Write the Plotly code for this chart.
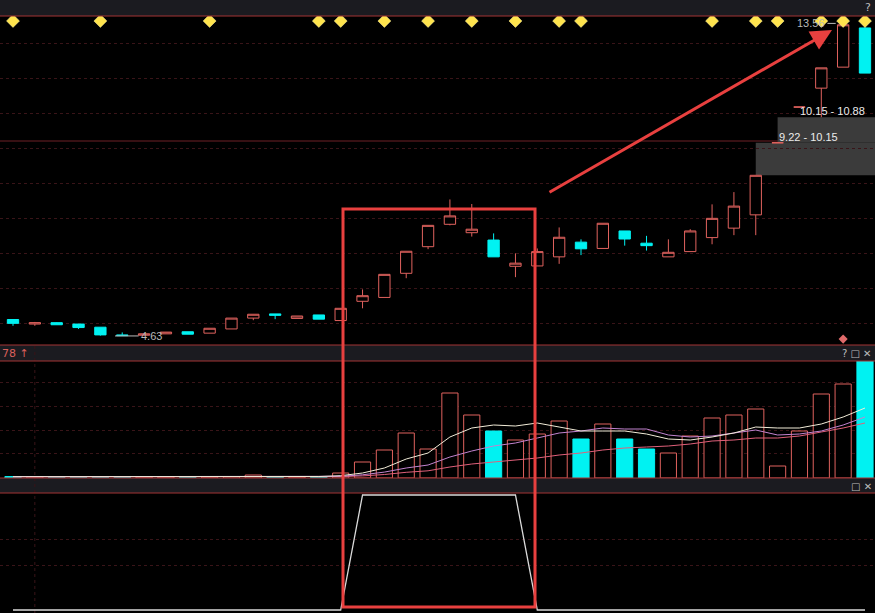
import plotly.graph_objects as go

# ---------------- data ----------------
days = list(range(1, 41))
open_ = [5.10, 4.97, 5.01, 4.97, 4.88, 4.66, 4.65, 4.69, 4.75, 4.71,
         4.83, 5.14, 5.26, 5.13, 5.23, 5.07, 5.62, 5.73, 6.42, 7.18,
         7.82, 7.58, 7.37, 6.62, 6.63, 6.89, 7.31, 7.13, 7.63, 7.28,
         6.89, 7.04, 7.44, 7.71, 8.09, 10.15, 11.17, 11.71, 12.31, 13.43]
high = [5.10, 5.03, 5.02, 4.97, 4.88, 4.73, 4.69, 4.74, 4.75, 4.85,
        5.14, 5.25, 5.26, 5.20, 5.23, 5.42, 5.96, 6.39, 7.05, 7.79,
        8.53, 8.40, 7.56, 6.99, 7.13, 7.73, 7.39, 7.85, 7.63, 7.49,
        7.39, 7.68, 8.39, 8.74, 9.22, 10.15, 11.17, 12.29, 13.56, 13.45]
low = [4.92, 4.92, 4.95, 4.83, 4.64, 4.63, 4.65, 4.69, 4.68, 4.71,
       4.83, 5.08, 5.11, 5.13, 5.11, 5.07, 5.42, 5.73, 6.28, 7.11,
       7.79, 7.47, 6.89, 6.31, 6.63, 6.69, 6.94, 7.13, 7.21, 7.07,
       6.89, 7.04, 7.25, 7.51, 7.51, 10.15, 11.17, 10.88, 12.31, 12.14]
close = [4.99, 5.01, 4.95, 4.87, 4.66, 4.64, 4.69, 4.74, 4.68, 4.85,
         5.14, 5.25, 5.22, 5.20, 5.11, 5.42, 5.78, 6.39, 7.05, 7.79,
         8.06, 7.68, 6.89, 6.71, 7.04, 7.45, 7.12, 7.85, 7.40, 7.21,
         7.02, 7.63, 7.99, 8.34, 9.22, 10.15, 11.17, 12.29, 13.52, 12.14]

volume = [1.5, 1.2, 1.0, 1.0, 1.5, 0.8, 1.0, 1.0, 1.0, 1.0,
          1.5, 3.0, 1.0, 1.0, 1.0, 5, 16, 28, 45, 29,
          85, 63, 47, 38, 44, 57, 39, 54, 39, 29,
          25, 42, 60, 63, 69, 12, 47, 84, 94, 117]
vol_ma5 = [1.3, 1.3, 1.2, 1.2, 1.2, 1.1, 1.1, 1.1, 1.1, 1.0,
           1.1, 1.5, 1.5, 1.5, 1.5, 2.3, 5, 10, 19, 25,
           41, 50, 53, 52, 55, 51, 47, 47, 47, 44,
           39, 38, 41, 45, 51, 50, 50, 54, 61, 70]
vol_ma10 = [1.3, 1.3, 1.3, 1.2, 1.2, 1.2, 1.2, 1.2, 1.2, 1.1,
            1.1, 1.3, 1.3, 1.3, 1.3, 1.7, 3.2, 5.9, 10, 13,
            21, 27, 32, 35, 40, 45, 47, 50, 49, 49,
            43, 41, 42, 45, 48, 43, 44, 47, 53, 61]
vol_ma20 = [1.2, 1.2, 1.2, 1.2, 1.2, 1.2, 1.2, 1.2, 1.2, 1.2,
            1.2, 1.2, 1.2, 1.2, 1.2, 1.4, 2.1, 3.5, 5.7, 7.2,
            11, 14, 16, 18, 20, 23, 25, 28, 30, 31,
            32, 34, 37, 38, 40, 40, 42, 46, 50, 55]
indicator = [0, 0, 0, 0, 0, 0, 0, 0, 0, 0,
             0, 0, 0, 0, 0, 0, 1, 1, 1, 1,
             1, 1, 1, 1, 0, 0, 0, 0, 0, 0,
             0, 0, 0, 0, 0, 0, 0, 0, 0, 0]
signal_days = [1, 5, 10, 15, 16, 18, 20, 22, 24, 26, 27, 33, 35, 36, 38, 39, 40]
low_label = "4.63"
high_label = "13.56"
gap_zones = [(9.22, 10.15, 35), (10.15, 10.88, 36)]

# ---------------- styling ----------------
RED = "#e0625e"
CYAN = "#00f2f2"
BAND = "#1b1b20"
BORDER = "#a33434"
GRID = "#391418"
FONT = "Liberation Sans, Arial, sans-serif"
H = 613.0


def py(px):
    return (H - px) / H


X0, X1 = 0.405, 40.458

fig = go.Figure()

fig.add_trace(go.Candlestick(
    x=days, open=open_, high=high, low=low, close=close,
    increasing=dict(line=dict(color=RED, width=1), fillcolor="#000000"),
    decreasing=dict(line=dict(color=CYAN, width=1), fillcolor=CYAN),
    whiskerwidth=0, xaxis="x", yaxis="y", hoverinfo="skip"))

fig.add_trace(go.Scatter(
    x=signal_days, y=[13.63] * len(signal_days), mode="markers",
    marker=dict(symbol="diamond", size=10, color="#ffe44d",
                line=dict(color="#fff2a0", width=0.5)),
    xaxis="x", yaxis="y", hoverinfo="skip"))
fig.add_trace(go.Scatter(
    x=[39], y=[4.54], mode="markers",
    marker=dict(symbol="diamond", size=7, color="#e06a6a"),
    xaxis="x", yaxis="y", hoverinfo="skip"))

up = [c >= o for o, c in zip(open_, close)]
fig.add_trace(go.Bar(
    x=days, y=volume, width=0.74,
    marker=dict(color=["#000000" if u else CYAN for u in up],
                line=dict(color=[RED if u else CYAN for u in up], width=1)),
    xaxis="x", yaxis="y2", hoverinfo="skip"))
for vals, col in [(vol_ma20, "#e0607a"), (vol_ma10, "#c283cf"), (vol_ma5, "#f2ecd8")]:
    fig.add_trace(go.Scatter(x=days, y=vals, mode="lines",
                             line=dict(color=col, width=1),
                             xaxis="x", yaxis="y2", hoverinfo="skip"))

fig.add_trace(go.Scatter(x=days, y=indicator, mode="lines",
                         line=dict(color="#dadada", width=1.3),
                         xaxis="x", yaxis="y3", hoverinfo="skip"))

shapes = []
# gap zones
for lo, hi, start in gap_zones:
    shapes.append(dict(type="rect", xref="x", yref="y", x0=start, x1=X1 + 1,
                       y0=lo, y1=hi, fillcolor="#3b3b3b", line=dict(width=0),
                       layer="below"))
# bands
for top, bot in [(0, 16), (345, 361), (478, 493)]:
    shapes.append(dict(type="rect", xref="paper", yref="paper", x0=0, x1=1,
                       y0=py(bot), y1=py(top), fillcolor=BAND,
                       line=dict(width=0), layer="below"))
for yy in [16, 345, 361, 478, 493]:
    shapes.append(dict(type="line", xref="paper", yref="paper", x0=0, x1=1,
                       y0=py(yy), y1=py(yy), line=dict(color=BORDER, width=1)))
shapes.append(dict(type="line", xref="paper", yref="paper", x0=0, x1=1,
                   y0=py(141), y1=py(141), line=dict(color="#6e2026", width=1),
                   layer="below"))
shapes.append(dict(type="line", xref="x", yref="paper", x0=2, x1=2,
                   y0=py(613), y1=py(345), line=dict(color=GRID, width=1, dash="dot"),
                   layer="below"))
# extreme price leader lines
shapes.append(dict(type="line", xref="x", yref="y", x0=5.67, x1=6.75, y0=4.63, y1=4.63,
                   line=dict(color="#bcbcbc", width=1)))
shapes.append(dict(type="line", xref="x", yref="y", x0=38.28, x1=38.66, y0=13.56, y1=13.56,
                   line=dict(color="#bcbcbc", width=1)))
# highlight rectangle
shapes.append(dict(type="rect", xref="x", yref="paper", x0=16.106, x1=24.895,
                   y0=py(607), y1=py(209), line=dict(color="#e8403f", width=3),
                   fillcolor="rgba(0,0,0,0)"))

annotations = [
    dict(x=6.77, y=4.63, xref="x", yref="y", text=low_label, showarrow=False,
         xanchor="left", yanchor="middle", font=dict(family=FONT, size=11, color="#b8b8b8")),
    dict(x=38.26, y=13.56, xref="x", yref="y", text=high_label, showarrow=False,
         xanchor="right", yanchor="middle", font=dict(family=FONT, size=11, color="#b8b8b8")),
]
for lo, hi, start in gap_zones:
    annotations.append(dict(x=start + 0.95, y=hi, xref="x", yref="y",
                            text=f"{lo:.2f} - {hi:.2f}", showarrow=False,
                            xanchor="left", yanchor="bottom", yshift=-2,
                            font=dict(family=FONT, size=11, color="#ececec")))
annotations += [
    dict(x=38.49, y=13.37, xref="x", yref="y", text="", showarrow=True,
         ax=-284, ay=163, arrowhead=2, arrowsize=1.4, arrowwidth=3,
         arrowcolor="#e8403f", standoff=0),
    dict(x=0, y=py(353), xref="paper", yref="paper", text="78 ↑", showarrow=False,
         xanchor="left", yanchor="middle",
         font=dict(family="DejaVu Sans, sans-serif", size=11, color="#d9605c")),
    dict(x=1, y=py(353), xref="paper", yref="paper", text="? □ ✕", showarrow=False,
         xanchor="right", yanchor="middle", xshift=-1,
         font=dict(family="DejaVu Sans, sans-serif", size=10, color="#bcbcbc")),
    dict(x=1, y=py(486), xref="paper", yref="paper", text="□ ✕", showarrow=False,
         xanchor="right", yanchor="middle", xshift=-1,
         font=dict(family="DejaVu Sans, sans-serif", size=10, color="#bcbcbc")),
    dict(x=1, y=py(7), xref="paper", yref="paper", text="?", showarrow=False,
         xanchor="right", yanchor="middle", xshift=-2,
         font=dict(family="DejaVu Sans, sans-serif", size=11, color="#bcbcbc")),
]

axis_common = dict(showticklabels=False, zeroline=False, ticks="",
                   showline=False, fixedrange=True)
fig.update_layout(
    width=875, height=613, margin=dict(l=0, r=0, t=0, b=0),
    paper_bgcolor="#000000", plot_bgcolor="#000000", showlegend=False,
    boxgap=0.26, bargap=0.26,
    xaxis=dict(range=[X0, X1], showgrid=False, rangeslider=dict(visible=False),
               **axis_common),
    yaxis=dict(domain=[py(345), py(16)], range=[5 - 22 / 35, 5 + 307 / 35],
               tick0=0, dtick=1, showgrid=True, gridcolor=GRID, griddash="dot",
               anchor="x", **axis_common),
    yaxis2=dict(domain=[py(478), py(361)], range=[0, 117],
                tickvals=[25, 48, 72, 96], showgrid=True, gridcolor=GRID,
                griddash="dot", anchor="x", **axis_common),
    yaxis3=dict(domain=[py(613), py(493)], range=[-3 / 115, 1 + 2 / 115],
                tickvals=[0.39, 0.61], showgrid=True, gridcolor=GRID,
                griddash="dot", anchor="x", **axis_common),
    shapes=shapes, annotations=annotations,
)

fig.write_html(
    "out.html",
    config={"displayModeBar": False, "staticPlot": True},
    post_script="document.body.style.margin='0';document.body.style.padding='0';"
                "document.body.style.overflow='hidden';document.body.style.background='#000';",
)
